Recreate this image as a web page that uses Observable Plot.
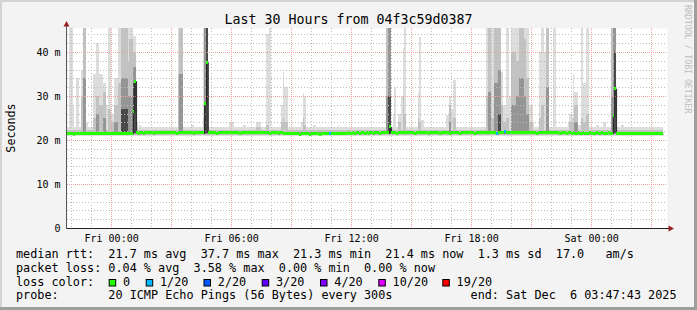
<!DOCTYPE html>
<html><head><meta charset="utf-8">
<script src="https://cdn.jsdelivr.net/npm/d3@7"></script>
<script src="https://cdn.jsdelivr.net/npm/@observablehq/plot@0.6"></script>
<style>
body{margin:0;background:#fff;}
#wrap{position:relative;width:697px;height:310px;background:#f3f3f3;overflow:hidden;}
#wrap svg{position:absolute;left:0;top:0;}
</style></head><body><div id="wrap"></div>
<script>
// ---- data (times in minutes from Fri 00:00, values in ms) ----
const viewStart = -132.3, viewEnd = 1667.7;      // Thu 21:47:43 .. Sat 03:47:43
const stepStart = -135, stepMinutes = 5;         // 300 s RRD steps
const yMax = 45.45;
const titleText = "Last 30 Hours from 04f3c59d0387";
const yTicks = [0, 10, 20, 30, 40];
const yTickLabels = ["0", "10 m", "20 m", "30 m", "40 m"];
const xLabelTimes = [0, 360, 720, 1080, 1440];
const xLabels = ["Fri 00:00", "Fri 06:00", "Fri 12:00", "Fri 18:00", "Sat 00:00"];
const hourGrid = [-120,-60,0,60,120,180,240,300,360,420,480,540,600,660,720,780,840,900,960,1020,1080,1140,1200,1260,1320,1380,1440,1500,1560,1620];
const majorHourGrid = [0,180,360,540,720,900,1080,1260,1440,1620];
const valueGrid = [2,4,6,8,12,14,16,18,22,24,26,28,32,34,36,38,42,44];
const majorValueGrid = [10,20,30,40];

const medianRows = [
 [21.4,21.5,21.4,21.4,21.3,21.4,21.5,21.4,21.4,21.5,21.4,21.4],
 [21.5,21.4,21.4,21.5,21.4,21.4,21.5,21.5,21.4,21.4,21.5,21.4],
 [21.4,21.5,21.5,21.4,21.4,21.5,21.4,21.5,21.5,21.4,21.5,21.5],
 [21.5,21.4,21.5,21.5,26.4,33.4,21.6,21.5,21.6,21.6,21.5,21.6],
 [21.6,21.7,21.6,21.6,21.5,21.6,21.7,21.6,21.6,21.7,21.6,21.6],
 [21.7,21.6,21.6,21.7,21.6,21.6,21.5,21.6,21.7,21.6,21.6,21.7],
 [21.6,21.6,21.7,21.6,21.5,21.6,21.6,21.7,21.6,21.6,21.6,28.2],
 [37.7,21.6,21.6,21.7,21.6,21.6,21.5,21.6,21.6,21.7,21.6,21.6],
 [21.6,21.7,21.7,21.6,21.6,21.7,21.6,21.6,21.5,21.6,21.7,21.6],
 [21.7,21.6,21.6,21.7,21.7,21.6,21.6,21.7,21.6,21.6,21.6,21.7],
 [21.6,21.6,21.5,21.6,21.6,21.7,21.6,21.5,21.6,21.6,21.5,21.5],
 [21.5,21.4,21.5,21.4,21.4,21.5,21.4,21.4,21.3,21.4,21.4,21.5],
 [21.4,21.4,21.3,21.4,21.5,21.4,21.4,21.4,21.3,21.4,21.4,21.4],
 [21.4,21.5,21.4,21.4,21.5,21.4,21.4,21.5,21.5,21.4,21.5,21.5],
 [21.5,21.6,21.5,21.5,21.6,21.5,21.6,21.6,21.5,21.6,21.6,21.5],
 [21.6,21.5,21.6,21.6,21.5,21.6,21.6,21.6,21.5,21.6,21.6,21.6],
 [21.6,21.6,23.0,21.7,21.6,21.6,21.5,21.6,21.6,21.7,21.6,21.6],
 [21.6,21.6,21.7,21.6,21.6,21.5,21.6,21.6,21.6,21.7,21.6,21.6],
 [21.6,21.5,21.6,21.6,21.6,21.7,21.6,21.6,21.5,21.6,21.6,21.6],
 [21.6,21.6,21.5,21.6,21.7,21.6,21.6,21.6,21.5,21.6,21.6,21.7],
 [21.6,21.6,21.6,21.7,21.6,21.5,21.6,21.6,21.6,21.6,21.7,21.6],
 [21.6,21.7,21.6,21.6,21.8,21.7,21.4,21.6,21.7,21.6,21.7,21.9],
 [21.7,21.6,21.6,21.7,21.6,21.6,21.7,21.6,21.6,21.6,21.7,21.6],
 [21.6,21.6,21.7,21.6,21.6,21.6,21.5,21.6,21.6,21.7,21.6,21.6],
 [21.6,21.7,21.6,21.6,21.6,21.7,21.6,21.6,21.5,21.6,21.6,21.6],
 [21.5,21.6,21.6,21.5,21.6,21.5,21.5,21.6,21.5,21.5,21.6,21.5],
 [21.5,21.5,21.6,21.5,21.5,21.5,21.6,21.5,21.5,21.6,21.5,21.5],
 [21.5,21.6,21.5,21.5,25.5,31.7,21.5,21.5,21.4,21.5,21.5,21.5],
 [21.5,21.4,21.5,21.5,21.4,21.5,21.5,21.4,21.5,21.5,21.4,21.5],
 [21.5,21.4,21.4,21.5,21.4,21.4,21.5,21.4,21.4,21.4]
];
const lossTimes = [655, 1155, 1180];
const lossCounts = [1, 1, 1];

// typical smoke around the median (ping spread) per shade level
const smokeFloors = [20.9, 21.1, 21.3, 21.5];
const smokeTypicalTops = [22.9, 22.3, 21.9, 0];
// smoke spikes: [start, end, outer (max ping), mid, inner, innermost]
const smokeSpikes = [
 [-125,-115,45.5,0,0,0],[-115,-110,28,0,0,0],[-105,-95,34,0,0,0],[-90,-85,36,30,0,0],
 [-85,-75,45.5,45.5,34,0],[-75,-70,24,0,0,0],[-55,-45,35,25,0,0],[-45,-35,42,30,26,0],
 [-35,-25,35,28,0,0],[-25,-15,33,31,25,0],[-15,-10,28,0,0,0],[-10,0,45.5,27,0,0],
 [0,10,26,24,0,0],[10,20,34,28,24,0],[20,30,45.5,33,0,0],[30,50,45.5,45.5,34,27],
 [50,55,45.5,38,30,0],[55,65,45.5,43,30,0],[65,75,43.6,40,36.6,33],[75,80,24,0,0,0],
 [85,90,23.5,0,0,0],[200,205,45.5,35,0,0],[205,215,45.5,45.5,35,0],[240,250,23.5,0,0,0],
 [275,280,45.5,25,0,0],[280,285,45.5,45.5,45.5,28],[285,290,45.5,45.5,45.5,45.5],
 [355,370,24,0,0,0],[395,405,23.5,0,0,0],[435,450,24,23,0,0],[465,475,44,23.5,0,0],
 [475,480,45.5,0,0,0],[510,515,28,24,0,0],[515,520,35.4,25,0,0],[520,530,32,24,0,0],
 [570,575,24,0,0,0],[575,580,30.6,25,0,0],[580,585,30,23.5,0,0],[605,615,23.4,0,0,0],
 [680,685,23.5,0,0,0],[715,720,23,0,0,0],[795,800,23,0,0,0],
 [825,830,45.5,45.5,30,0],[830,840,45.5,45.5,45.5,30],[845,850,26,0,0,0],[850,855,32,0,0,0],
 [860,870,26,24,0,0],[870,875,30,0,0,0],[875,880,41,30,0,0],[880,885,45.5,26,0,0],
 [920,925,30.8,25,0,0],[925,930,43.4,24,0,0],[930,940,24.5,0,0,0],
 [1005,1015,25.7,0,0,0],[1015,1020,30,28,24,0],[1020,1025,27,0,0,0],[1025,1035,33.6,25,0,0],
 [1095,1110,23,0,0,0],[1125,1130,45.5,30,0,0],[1130,1140,45.5,45.5,31,0],[1140,1150,45.5,25,0,0],
 [1150,1160,45.5,45.5,33,0],[1160,1170,45.5,45.5,36,26],[1170,1175,35.4,28,0,0],[1175,1185,28,24,0,0],
 [1185,1195,45.5,25,0,0],[1195,1200,30,0,0,0],[1200,1215,45.5,40,28,0],[1215,1225,45.5,38,30,0],
 [1225,1240,45.5,45.5,34,0],[1240,1245,45.5,43,30,0],[1245,1255,45.5,34,26,0],[1255,1265,28,24,0,0],
 [1265,1270,24,0,0,0],[1285,1290,40,25,0,0],[1290,1300,45.5,28,0,0],[1300,1305,40,0,0,0],
 [1305,1315,45.5,45.5,32,0],[1325,1335,45.5,0,0,0],
 [1370,1375,24,0,0,0],[1375,1385,26,24,0,0],[1385,1390,35,25,0,0],[1390,1400,31,28,24,0],
 [1400,1410,23.5,0,0,0],[1410,1415,45.5,25,0,0],[1415,1425,33,24,0,0],[1425,1435,45.5,26,0,0],
 [1455,1465,23.5,0,0,0],[1475,1485,24,0,0,0],[1500,1505,45.5,45.5,30,0],
 [1505,1510,45.5,45.5,45.5,25],[1510,1515,45.5,45.5,45.5,40],[1530,1540,23.5,0,0,0],[1570,1580,23,0,0,0]
];
const smokeColors = ["#dddddd", "#c2c2c2", "#959595", "#4a4a4a"];

const lossThresholds = [0, 1, 2, 3, 4, 10, 19];
const lossLabels = ["0", "1/20", "2/20", "3/20", "4/20", "10/20", "19/20"];
const lossColors = ["#26ff00", "#00b8ff", "#0059ff", "#5e00ff", "#7e00ff", "#dd00ff", "#ff0000"];

const legendRtt = "median rtt:  21.7 ms avg  37.7 ms max  21.3 ms min  21.4 ms now  1.3 ms sd  17.0   am/s";
const legendLoss = "packet loss: 0.04 % avg  3.58 % max  0.00 % min  0.00 % now";
const legendColorTitle = "loss color:";
const legendProbe = "probe:       20 ICMP Echo Pings (56 Bytes) every 300s           end: Sat Dec  6 03:47:43 2025";
const yLabel = "Seconds";
const watermark = "RRDTOOL / TOBI OETIKER";

// ---- build tables ----
const medianValues = medianRows.flat();
const lossColor = n => { let c = lossColors[0]; lossThresholds.forEach((t, j) => { if (n >= t) c = lossColors[j]; }); return c; };
const steps = medianValues.map((m, i) => {
  const t0 = stepStart + stepMinutes * i;
  const k = lossTimes.indexOf(t0);
  return {t0, t1: t0 + stepMinutes, median: m, loss: k < 0 ? 0 : lossCounts[k]};
});
const lineSteps = steps.concat([{t0: steps[steps.length - 1].t1, median: steps[steps.length - 1].median}]);
const spikeLayers = smokeColors.map((c, k) =>
  smokeSpikes.filter(r => r[2 + k] > 0).map(r => ({t0: r[0], t1: r[1], y1: smokeFloors[k], y2: r[2 + k]})));

const marks = [Plot.frame({fill: "white", stroke: null})];
smokeColors.forEach((c, k) => {
  if (smokeTypicalTops[k] > smokeFloors[k])
    marks.push(Plot.rect(steps, {x1: "t0", x2: "t1", y1: () => smokeFloors[k], y2: () => smokeTypicalTops[k], fill: c, clip: true, shapeRendering: "crispEdges"}));
  marks.push(Plot.rect(spikeLayers[k], {x1: "t0", x2: "t1", y1: "y1", y2: "y2", fill: c, clip: true, shapeRendering: "crispEdges"}));
});
marks.push(
  Plot.ruleX(hourGrid.filter(h => !majorHourGrid.includes(h)), {stroke: "#bdbdbd", strokeDasharray: "1,2", shapeRendering: "crispEdges"}),
  Plot.ruleY(valueGrid, {stroke: "#bdbdbd", strokeDasharray: "1,2", shapeRendering: "crispEdges"}),
  Plot.ruleX(majorHourGrid, {stroke: "#f2a0a0", strokeDasharray: "1,1", shapeRendering: "crispEdges"}),
  Plot.ruleY(majorValueGrid, {stroke: "#f2a0a0", strokeDasharray: "1,1", shapeRendering: "crispEdges"}),
  Plot.line(lineSteps, {x: "t0", y: "median", curve: "step-after", stroke: "#202020", strokeWidth: 1, clip: true}),
  Plot.rect(steps, {x1: "t0", x2: "t1", y1: d => d.median - 0.34, y2: d => d.median + 0.34, fill: d => lossColor(d.loss), clip: true, shapeRendering: "crispEdges"}),
  Plot.axisY({ticks: yTicks, tickFormat: d => yTickLabels[yTicks.indexOf(d)], tickSize: 0, tickPadding: 7, label: null}),
  Plot.axisX({ticks: xLabelTimes, tickFormat: d => xLabels[xLabelTimes.indexOf(d)], tickSize: 0, tickPadding: 6, label: null})
);

const chart = Plot.plot({
  width: 697, height: 245,
  marginLeft: 67, marginRight: 30, marginTop: 28, marginBottom: 17,
  x: {type: "linear", domain: [viewStart, viewEnd]},
  y: {type: "linear", domain: [0, yMax]},
  style: {background: "transparent", fontFamily: "'DejaVu Sans Mono', monospace", fontSize: "10px", color: "#000"},
  marks
});
const wrap = document.getElementById("wrap");
wrap.appendChild(chart);

// axis lines and arrows, placed from the scales
const xs = chart.scale("x"), ys = chart.scale("y");
const sv = d3.select(chart);
const x0 = Math.round(xs.apply(viewStart)) - 0.5, yb = Math.round(ys.apply(0)) + 0.5, xe = xs.apply(viewEnd);
const yt = ys.apply(yMax);
sv.append("line").attr("x1", x0).attr("x2", x0).attr("y1", yt - 2).attr("y2", yb).attr("stroke", "#555");
sv.append("line").attr("x1", x0).attr("x2", xe + 4).attr("y1", yb).attr("y2", yb).attr("stroke", "#222");
sv.append("path").attr("d", `M${x0},${yt - 7}L${x0 - 3},${yt - 1.5}L${x0 + 3},${yt - 1.5}Z`).attr("fill", "#9a2020");
sv.append("path").attr("d", `M${xe + 7},${yb}L${xe + 1.5},${yb - 3}L${xe + 1.5},${yb + 3}Z`).attr("fill", "#9a2020");

// texts, legend, frame
const ov = d3.select(wrap).append("svg").attr("width", 697).attr("height", 310)
  .style("font-family", "'DejaVu Sans Mono', monospace").style("pointer-events", "none");
ov.append("rect").attr("x", 0).attr("y", 0).attr("width", 697).attr("height", 2).attr("fill", "#d4d4d4");
ov.append("rect").attr("x", 0).attr("y", 0).attr("width", 2).attr("height", 310).attr("fill", "#d4d4d4");
ov.append("rect").attr("x", 0).attr("y", 307).attr("width", 697).attr("height", 3).attr("fill", "#9e9e9e");
ov.append("rect").attr("x", 694).attr("y", 0).attr("width", 3).attr("height", 310).attr("fill", "#9e9e9e");
ov.append("text").attr("x", 348.5).attr("y", 24).attr("text-anchor", "middle").attr("font-size", 13.3).attr("fill", "#000").text(titleText);
ov.append("text").attr("transform", "translate(15,128) rotate(-90)").attr("text-anchor", "middle").attr("font-size", 11.7).attr("fill", "#000").text(yLabel);
ov.append("text").attr("transform", "translate(685,5) rotate(90)").attr("font-size", 8.2).attr("fill", "#bdbdbd").text(watermark);
const legendFont = 11.8;
const addLine = (txt, y) => ov.append("text").attr("x", 16).attr("y", y).attr("font-size", legendFont)
  .attr("xml:space", "preserve").style("white-space", "pre").attr("fill", "#000").text(txt);
addLine(legendRtt, 258.3);
addLine(legendLoss, 271.9);
addLine(legendColorTitle, 285.6);
addLine(legendProbe, 299.3);
const boxX = [108.7, 145.7, 203.5, 261.7, 320, 378.3, 442.3];
lossLabels.forEach((lab, j) => {
  ov.append("rect").attr("x", boxX[j] + 0.5).attr("y", 279.5).attr("width", 6.5).attr("height", 6.5)
    .attr("fill", lossColors[j]).attr("stroke", "#000").attr("stroke-width", 1);
  ov.append("text").attr("x", boxX[j] + 14.3).attr("y", 285.6).attr("font-size", legendFont).attr("fill", "#000").text(lab);
});
</script></body></html>
